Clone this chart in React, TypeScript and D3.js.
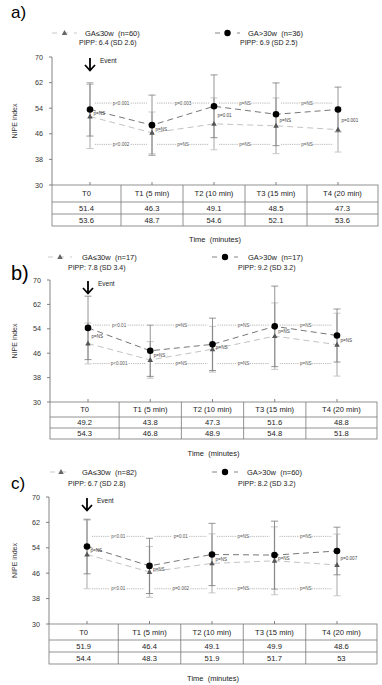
import React from "react";
import * as d3 from "d3";

const timepoints = ["T0", "T1 (5 min)", "T2 (10 min)", "T3 (15 min)", "T4 (20 min)"];
const yTicks = [30, 38, 46, 54, 62, 70];

// Panel a
const aLowMean = [51.4, 46.3, 49.1, 48.5, 47.3];
const aLowSD = [10.0, 6.5, 8.1, 8.7, 7.0];
const aHighMean = [53.6, 48.7, 54.6, 52.1, 53.6];
const aHighSD = [8.3, 9.4, 9.8, 9.8, 7.0];
const aUpperP = ["p<0.001", "p=0.003", "p=NS", "p=NS"];
const aLowerP = ["p<0.002", "p=NS", "p=NS", "p=NS"];
const aPointP = ["p=NS", "p=NS.", "p=0.01", "p=NS", "p=0.001"];
const aPLevels = [55.6, 42.7];
const aLegend = ["GA≤30w  (n=60)", "GA>30w  (n=36)"];
const aPipp = ["PIPP: 6.4 (SD 2.6)", "PIPP: 6.9 (SD 2.5)"];

// Panel b
const bLowMean = [49.2, 43.8, 47.3, 51.6, 48.8];
const bLowSD = [6.7, 6.0, 7.5, 10.9, 10.3];
const bHighMean = [54.3, 46.8, 48.9, 54.8, 51.8];
const bHighSD = [10.4, 8.4, 8.6, 13.2, 8.7];
const bUpperP = ["p<0.01", "p=NS", "p=NS", "p=NS"];
const bLowerP = ["p<0.001", "p=NS", "p=NS", "p=NS"];
const bPointP = ["p=NS", "p=NS", "p=NS", "p=NS", "p=NS"];
const bPLevels = [55.2, 42.6];
const bLegend = ["GA≤30w  (n=17)", "GA>30w  (n=17)"];
const bPipp = ["PIPP: 7.8 (SD 3.4)", "PIPP: 9.2 (SD 3.2)"];

// Panel c
const cLowMean = [51.9, 46.4, 49.1, 49.9, 48.6];
const cLowSD = [10.8, 8.0, 9.3, 10.7, 9.7];
const cHighMean = [54.4, 48.3, 51.9, 51.7, 53];
const cHighSD = [8.6, 8.7, 9.8, 10.7, 7.5];
const cUpperP = ["p<0.01", "p=0.01", "p=NS", "p=NS"];
const cLowerP = ["p<0.01", "p=0.002", "p=NS", "p=NS"];
const cPointP = ["p=NS", "p=NS", "p=NS", "p=NS", "p=0.007"];
const cPLevels = [57.6, 41.1];
const cLegend = ["GA≤30w  (n=82)", "GA>30w  (n=60)"];
const cPipp = ["PIPP: 6.7 (SD 2.8)", "PIPP: 8.2 (SD 3.2)"];

const panels = [
  {
    data: { lowMean: aLowMean, lowSD: aLowSD, highMean: aHighMean, highSD: aHighSD, upperP: aUpperP, lowerP: aLowerP, pointP: aPointP, pLevels: aPLevels, legend: aLegend, pipp: aPipp },
    tag: "a)", tagX: 11, tagY: 18, tagSize: 17,
    legY: 36, pippY: 45, legLow: [52, 77, 85, 79], legHigh: [215, 240, 248, 240],
    y70: 57, y30: 185, x0: 90, x4: 338, timeY: 242, header: 17, row: 12,
  },
  {
    data: { lowMean: bLowMean, lowSD: bLowSD, highMean: bHighMean, highSD: bHighSD, upperP: bUpperP, lowerP: bLowerP, pointP: bPointP, pLevels: bPLevels, legend: bLegend, pipp: bPipp },
    tag: "b)", tagX: 11, tagY: 280, tagSize: 20,
    legY: 260, pippY: 270, legLow: [48, 72, 82, 68], legHigh: [212, 238, 248, 238],
    y70: 280, y30: 402, x0: 88, x4: 337, timeY: 456, header: 15, row: 11,
  },
  {
    data: { lowMean: cLowMean, lowSD: cLowSD, highMean: cHighMean, highSD: cHighSD, upperP: cUpperP, lowerP: cLowerP, pointP: cPointP, pLevels: cPLevels, legend: cLegend, pipp: cPipp },
    tag: "c)", tagX: 11, tagY: 489, tagSize: 17,
    legY: 475, pippY: 486, legLow: [50, 72, 82, 68], legHigh: [212, 238, 247, 238],
    y70: 497, y30: 624, x0: 87, x4: 337, timeY: 681, header: 16, row: 12,
  },
];

const FONT = "'Liberation Sans', Arial, sans-serif";
const HIGH_COLOR = "#666";
const LOW_COLOR = "#bbb";
const PRE = { whiteSpace: "pre" as const };

function Triangle({ x, y, s, fill }: { x: number; y: number; s: number; fill: string }) {
  const h = s * 0.9;
  return <path d={`M${x},${y - h * 0.6}L${x + s / 2},${y + h * 0.4}L${x - s / 2},${y + h * 0.4}Z`} fill={fill} />;
}

function Panel({ p }: { p: (typeof panels)[number] }) {
  const d = p.data;
  const x = d3.scalePoint<string>().domain(timepoints).range([p.x0, p.x4]);
  const y = d3.scaleLinear().domain([30, 70]).range([p.y30, p.y70]);
  const axisX = p.x0 - 38;
  const right = p.x4 + 40;
  const xs = timepoints.map((t) => x(t) as number);
  const lineGen = d3
    .line<number>()
    .x((_, i) => xs[i])
    .y((v) => y(v));
  const bounds = [axisX, ...xs.slice(0, -1).map((v, i) => (v + xs[i + 1]) / 2), right];
  const rowsY = [p.y30, p.y30 + p.header, p.y30 + p.header + p.row, p.y30 + p.header + 2 * p.row];
  const pSize = 4.6;
  const segs = (labels: string[], level: number, key: string) =>
    labels.map((lab, i) => {
      const x1 = xs[i] + 5;
      const x2 = xs[i + 1] - 5;
      const mid = (x1 + x2) / 2;
      const w = lab.length * pSize * 0.5 + 3;
      const yy = y(level);
      return (
        <g key={key + i}>
          <line x1={x1} x2={mid - w / 2} y1={yy} y2={yy} stroke="#999" strokeWidth={0.7} strokeDasharray="1.2,1" />
          <line x1={mid + w / 2} x2={x2} y1={yy} y2={yy} stroke="#999" strokeWidth={0.7} strokeDasharray="1.2,1" />
          <text x={mid} y={yy + 1.6} fontSize={pSize} textAnchor="middle" fill="#555">
            {lab}
          </text>
        </g>
      );
    });
  return (
    <g fontFamily={FONT}>
      <text x={p.tagX} y={p.tagY} fontSize={p.tagSize} fill="#000">
        {p.tag}
      </text>
      {/* legend */}
      <line x1={p.legLow[0]} x2={p.legLow[1]} y1={p.legY - 3} y2={p.legY - 3} stroke={LOW_COLOR} strokeWidth={0.8} strokeDasharray="5,6" />
      <Triangle x={(p.legLow[0] + p.legLow[1]) / 2} y={p.legY - 3} s={5.5} fill="#666" />
      <text x={p.legLow[2]} y={p.legY} fontSize={7.5} fill="#222" style={PRE}>
        {d.legend[0]}
      </text>
      <text x={p.legLow[3]} y={p.pippY} fontSize={7} fill="#222" style={PRE}>
        {d.pipp[0]}
      </text>
      <line x1={p.legHigh[0]} x2={p.legHigh[1]} y1={p.legY - 3} y2={p.legY - 3} stroke={HIGH_COLOR} strokeWidth={0.8} strokeDasharray="5,6" />
      <circle cx={(p.legHigh[0] + p.legHigh[1]) / 2} cy={p.legY - 3} r={3.2} fill="#000" />
      <text x={p.legHigh[2]} y={p.legY} fontSize={7.5} fill="#222" style={PRE}>
        {d.legend[1]}
      </text>
      <text x={p.legHigh[3]} y={p.pippY} fontSize={7} fill="#222" style={PRE}>
        {d.pipp[1]}
      </text>
      {/* y axis */}
      <line x1={axisX} x2={axisX} y1={y(70)} y2={y(30)} stroke="#666" strokeWidth={0.8} />
      {yTicks.map((t) => (
        <g key={t}>
          <line x1={axisX - 3} x2={axisX} y1={y(t)} y2={y(t)} stroke="#666" strokeWidth={0.8} />
          <text x={axisX - 9} y={y(t) + 2.5} fontSize={7.2} textAnchor="end" fill="#333">
            {t}
          </text>
        </g>
      ))}
      <text
        transform={`translate(${17},${(y(62) + y(38)) / 2}) rotate(-90)`}
        fontSize={7}
        textAnchor="middle"
        fill="#333"
      >
        NIPE index
      </text>
      {/* x ticks */}
      {xs.map((v, i) => (
        <line key={i} x1={v} x2={v} y1={p.y30 - 3} y2={p.y30} stroke="#666" strokeWidth={0.8} />
      ))}
      {/* event */}
      <line x1={xs[0]} x2={xs[0]} y1={y(70) + 1} y2={y(70) + 13} stroke="#000" strokeWidth={1.8} />
      <path
        d={`M${xs[0] - 5},${y(70) + 8}L${xs[0]},${y(70) + 13.5}L${xs[0] + 5},${y(70) + 8}`}
        fill="none"
        stroke="#000"
        strokeWidth={1.8}
      />
      <text x={xs[0] + 10} y={y(70) + 6} fontSize={6.5} fill="#222">
        Event
      </text>
      {/* p-value dotted rows */}
      {segs(d.upperP, d.pLevels[0], "u")}
      {segs(d.lowerP, d.pLevels[1], "l")}
      {/* error bars */}
      {xs.map((v, i) => {
        const lo = d.lowMean[i];
        const ls = d.lowSD[i];
        const hi = d.highMean[i];
        const hs = d.highSD[i];
        return (
          <g key={"eb" + i}>
            <line x1={v} x2={v} y1={y(lo - ls)} y2={y(lo + ls)} stroke="#c8c8c8" strokeWidth={1.6} />
            <line x1={v - 3.5} x2={v + 3.5} y1={y(lo - ls)} y2={y(lo - ls)} stroke="#c8c8c8" strokeWidth={1} />
            <line x1={v - 3.5} x2={v + 3.5} y1={y(lo + ls)} y2={y(lo + ls)} stroke="#c8c8c8" strokeWidth={1} />
            <line x1={v} x2={v} y1={y(hi - hs)} y2={y(hi + hs)} stroke="#7a7a7a" strokeWidth={0.8} />
            <line x1={v - 3.5} x2={v + 3.5} y1={y(hi - hs)} y2={y(hi - hs)} stroke="#7a7a7a" strokeWidth={0.8} />
            <line x1={v - 3.5} x2={v + 3.5} y1={y(hi + hs)} y2={y(hi + hs)} stroke="#7a7a7a" strokeWidth={0.8} />
          </g>
        );
      })}
      {/* lines */}
      <path d={lineGen(d.lowMean) || ""} fill="none" stroke={LOW_COLOR} strokeWidth={0.9} strokeDasharray="6,4" />
      <path d={lineGen(d.highMean) || ""} fill="none" stroke={HIGH_COLOR} strokeWidth={0.9} strokeDasharray="6,4" />
      {/* markers */}
      {xs.map((v, i) => (
        <g key={"m" + i}>
          <Triangle x={v} y={y(d.lowMean[i])} s={5.5} fill="#555" />
          <circle cx={v} cy={y(d.highMean[i])} r={3.3} fill="#000" />
          <text x={v + 3.5} y={(y(d.lowMean[i]) + y(d.highMean[i])) / 2 + 2} fontSize={pSize} fill="#444">
            {d.pointP[i]}
          </text>
        </g>
      ))}
      {/* table */}
      <rect x={axisX} y={rowsY[0]} width={right - axisX} height={rowsY[3] - rowsY[0]} fill="none" stroke="#777" strokeWidth={0.8} />
      {[1, 2].map((r) => (
        <line key={r} x1={axisX} x2={right} y1={rowsY[r]} y2={rowsY[r]} stroke="#777" strokeWidth={0.8} />
      ))}
      {bounds.slice(1, -1).map((b, i) => (
        <line key={"cb" + i} x1={b} x2={b} y1={rowsY[0]} y2={rowsY[3]} stroke="#777" strokeWidth={0.8} />
      ))}
      {timepoints.map((t, i) => {
        const cx = (bounds[i] + bounds[i + 1]) / 2;
        return (
          <g key={"tc" + i} fontSize={7.6} fill="#222" textAnchor="middle">
            <text x={cx} y={(rowsY[0] + rowsY[1]) / 2 + 2.7}>{t}</text>
            <text x={cx} y={(rowsY[1] + rowsY[2]) / 2 + 2.7}>{d.lowMean[i]}</text>
            <text x={cx} y={(rowsY[2] + rowsY[3]) / 2 + 2.7}>{d.highMean[i]}</text>
          </g>
        );
      })}
      <text x={(axisX + right) / 2} y={p.timeY} fontSize={7.5} textAnchor="middle" fill="#222" style={PRE}>
        Time  (minutes)
      </text>
    </g>
  );
}

export default function App() {
  return (
    <svg width={382} height={685} style={{ position: "absolute", left: 0, top: 0, background: "#fff" }}>
      <rect width={382} height={685} fill="#fff" />
      {panels.map((p, i) => (
        <Panel key={i} p={p} />
      ))}
    </svg>
  );
}
